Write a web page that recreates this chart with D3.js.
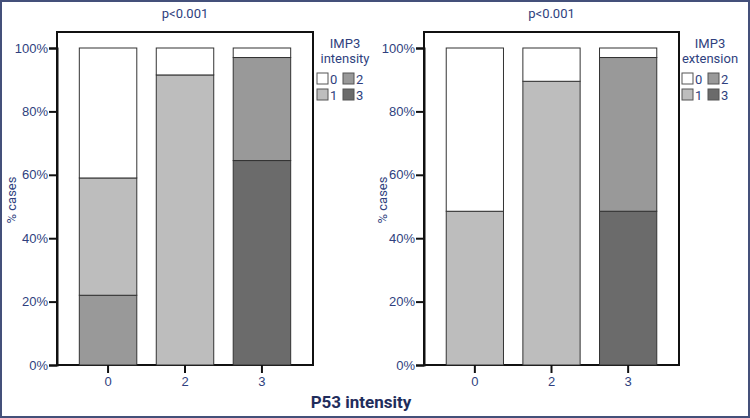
<!DOCTYPE html>
<html lang="en">
<head>
<meta charset="UTF-8">
<title>IMP3 vs P53 intensity</title>
<script src="https://d3js.org/d3.v7.min.js"></script>
<style>
  body { margin: 0; background: #fff; }
  svg { display: block; font-family: "Roboto", "DejaVu Sans", sans-serif; }
</style>
</head>
<body>
<div id="chart"></div>
<script>
// P53 intensity groups (x axis)
const categories = ["0", "2", "3"];
// stacking order, bottom to top
const levels = ["3", "2", "1", "0"];
const yTicks = [0, 20, 40, 60, 80, 100];

// % of cases per IMP3 level, left panel (IMP3 intensity)
const intensity0 = [41, 8.5, 3];
const intensity1 = [37, 91.5, 0];
const intensity2 = [22, 0, 32.5];
const intensity3 = [0, 0, 64.5];

// right panel (IMP3 extension)
const extension0 = [51.5, 10.5, 3];
const extension1 = [48.5, 89.5, 0];
const extension2 = [0, 0, 48.5];
const extension3 = [0, 0, 48.5];

const levelColor = {"0": "#ffffff", "1": "#bdbdbd", "2": "#999999", "3": "#6b6b6b"};
const textColor = "#2f3f7e";

const width = 750, height = 418;
const svg = d3.select("#chart").append("svg")
    .attr("width", width)
    .attr("height", height);

// outer frame
svg.append("rect")
    .attr("x", 1).attr("y", 1)
    .attr("width", width - 2).attr("height", height - 2)
    .attr("fill", "none")
    .attr("stroke", "#44507a")
    .attr("stroke-width", 2);

function panel(opts) {
    const {x0, x1, series, legendTitle, legendX, ylabelX} = opts;
    const yTop = 32, y0 = 365, y100 = 48;

    const y = d3.scaleLinear().domain([0, 100]).range([y0, y100]);
    const x = d3.scaleBand().domain(categories)
        .range([x0, x1])
        .paddingInner(0.253)
        .paddingOuter(0.29);

    const rows = categories.map((c, i) => {
        const r = {cat: c};
        levels.forEach(l => r[l] = series[l][i]);
        return r;
    });
    const stacked = d3.stack().keys(levels)(rows);

    const g = svg.append("g");

    // plot frame
    g.append("rect")
        .attr("x", x0).attr("y", yTop)
        .attr("width", x1 - x0).attr("height", y0 - yTop)
        .attr("fill", "none")
        .attr("stroke", "#111")
        .attr("stroke-width", 2);

    g.selectAll("g.layer")
        .data(stacked)
        .join("g")
        .attr("class", "layer")
        .attr("fill", d => levelColor[d.key])
        .selectAll("rect")
        .data(d => d.filter(s => s[1] - s[0] > 0))
        .join("rect")
        .attr("x", d => x(d.data.cat))
        .attr("width", x.bandwidth())
        .attr("y", d => y(d[1]))
        .attr("height", d => y(d[0]) - y(d[1]))
        .attr("stroke", "#333")
        .attr("stroke-width", 1);

    // y axis
    const yAxis = g.append("g")
        .attr("transform", `translate(${x0},0)`)
        .call(d3.axisLeft(y).tickValues(yTicks).tickFormat(d => d + "%").tickSize(8).tickPadding(1));
    yAxis.select(".domain").attr("stroke", "#111").attr("stroke-width", 2);
    yAxis.selectAll(".tick line").attr("stroke", "#111").attr("stroke-width", 2);
    yAxis.selectAll("text").attr("fill", textColor).style("font-size", "13px");

    // x axis
    const xAxis = g.append("g")
        .attr("transform", `translate(0,${y0})`)
        .call(d3.axisBottom(x).tickSize(8).tickPadding(4));
    xAxis.select(".domain").remove();
    xAxis.selectAll(".tick line").attr("stroke", "#111").attr("stroke-width", 2);
    xAxis.selectAll("text").attr("fill", textColor).style("font-size", "13px");

    // p value
    g.append("text")
        .attr("x", (x0 + x1) / 2).attr("y", 18)
        .attr("text-anchor", "middle")
        .attr("fill", textColor)
        .style("font-size", "13px")
        .text("p<0.001");

    // y label
    g.append("text")
        .attr("transform", `translate(${ylabelX},${200}) rotate(-90)`)
        .attr("text-anchor", "middle")
        .attr("fill", textColor)
        .style("font-size", "13px")
        .text("% cases");

    // legend
    const lg = g.append("g").attr("transform", `translate(${legendX},0)`);
    lg.selectAll("text.title")
        .data(["IMP3", legendTitle])
        .join("text")
        .attr("class", "title")
        .attr("x", 0)
        .attr("y", (d, i) => 48 + i * 15)
        .attr("text-anchor", "middle")
        .attr("fill", textColor)
        .style("font-size", "13px")
        .text(d => d);

    const items = ["0", "2", "1", "3"];
    const item = lg.selectAll("g.item")
        .data(items)
        .join("g")
        .attr("class", "item")
        .attr("transform", (d, i) => `translate(${-28 + (i % 2) * 26},${73 + Math.floor(i / 2) * 16})`);
    item.append("rect")
        .attr("width", 11).attr("height", 11)
        .attr("fill", d => levelColor[d])
        .attr("stroke", "#555")
        .attr("stroke-width", 1);
    item.append("text")
        .attr("x", 13).attr("y", 10.5)
        .attr("fill", textColor)
        .style("font-size", "13px")
        .text(d => d);
}

panel({
    x0: 57, x1: 313,
    series: {"0": intensity0, "1": intensity1, "2": intensity2, "3": intensity3},
    legendTitle: "intensity", legendX: 345, ylabelX: 16
});
panel({
    x0: 424, x1: 679,
    series: {"0": extension0, "1": extension1, "2": extension2, "3": extension3},
    legendTitle: "extension", legendX: 710, ylabelX: 387
});

// shared x title
svg.append("text")
    .attr("x", 361).attr("y", 408)
    .attr("text-anchor", "middle")
    .attr("fill", "#1f2d5c")
    .style("font-size", "17px")
    .style("font-weight", "bold")
    .text("P53 intensity");
</script>
</body>
</html>
